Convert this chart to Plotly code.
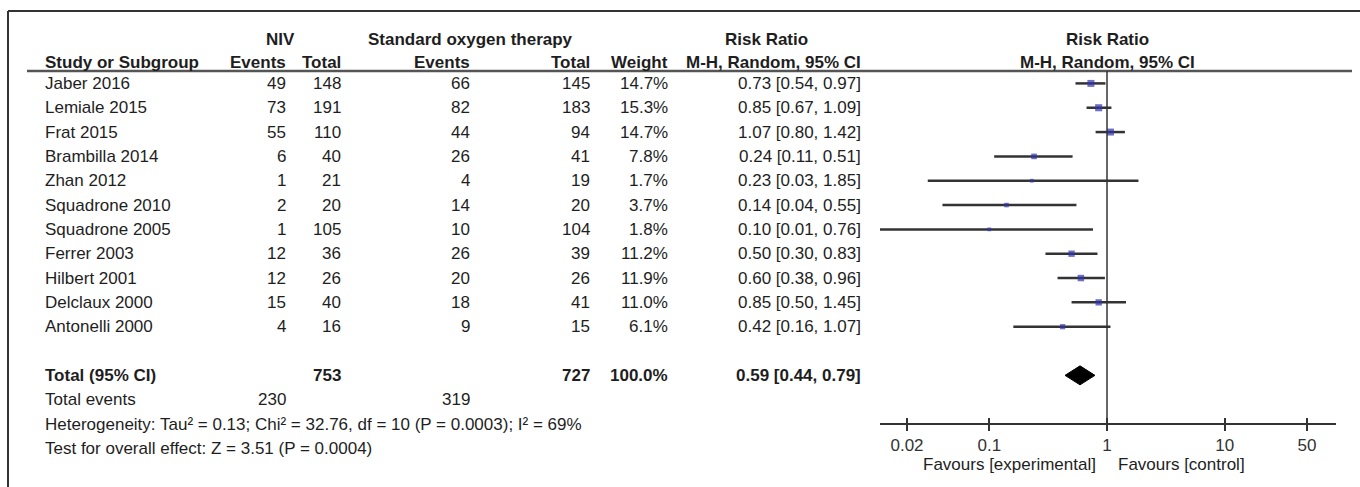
import math
import plotly.graph_objects as go

# ---------------- data ----------------
studies = ["Jaber 2016", "Lemiale 2015", "Frat 2015", "Brambilla 2014", "Zhan 2012",
           "Squadrone 2010", "Squadrone 2005", "Ferrer 2003", "Hilbert 2001",
           "Delclaux 2000", "Antonelli 2000"]
niv_events = [49, 73, 55, 6, 1, 2, 1, 12, 12, 15, 4]
niv_total = [148, 191, 110, 40, 21, 20, 105, 36, 26, 40, 16]
sot_events = [66, 82, 44, 26, 4, 14, 10, 26, 20, 18, 9]
sot_total = [145, 183, 94, 41, 19, 20, 104, 39, 26, 41, 15]
weights = [14.7, 15.3, 14.7, 7.8, 1.7, 3.7, 1.8, 11.2, 11.9, 11.0, 6.1]
rr = [0.73, 0.85, 1.07, 0.24, 0.23, 0.14, 0.10, 0.50, 0.60, 0.85, 0.42]
rr_lo = [0.54, 0.67, 0.80, 0.11, 0.03, 0.04, 0.01, 0.30, 0.38, 0.50, 0.16]
rr_hi = [0.97, 1.09, 1.42, 0.51, 1.85, 0.55, 0.76, 0.83, 0.96, 1.45, 1.07]

total_niv = 753
total_sot = 727
total_weight = "100.0%"
total_rr, total_lo, total_hi = 0.59, 0.44, 0.79
events_niv = 230
events_sot = 319
heterogeneity = "Heterogeneity: Tau² = 0.13; Chi² = 32.76, df = 10 (P = 0.0003); I² = 69%"
overall = "Test for overall effect: Z = 3.51 (P = 0.0004)"

tick_vals = [0.02, 0.1, 1, 10, 50]
tick_text = ["0.02", "0.1", "1", "10", "50"]

# ---------------- layout constants ----------------
W, H = 1360, 487
ROW0, ROWH = 83.4, 24.33          # pixel y of first row, row spacing


def row_of(py):
    return (py - ROW0) / ROWH


def px(x):
    return x / W


def py_paper(y):
    return 1 - y / H


TXT = "#1e1e1e"
FONT = "Arial, Liberation Sans, sans-serif"
FS = 17
BLUE = "#3033aa"
LINE = "#333333"

AX_L, AX_R = 880, 1336
X_ONE, DECADE = 1107.0, 117.7
xr = [(AX_L - X_ONE) / DECADE, (AX_R - X_ONE) / DECADE]
AXIS_Y = 424

fig = go.Figure()

# CI lines
cx, cy = [], []
for i, (lo, hi) in enumerate(zip(rr_lo, rr_hi)):
    cx += [lo, hi, None]
    cy += [i, i, None]
fig.add_trace(go.Scatter(x=cx, y=cy, mode="lines", line=dict(color=LINE, width=2.5),
                         hoverinfo="skip", showlegend=False))

# point estimates
sizes = [2 + 1.3 * math.sqrt(w) for w in weights]
fig.add_trace(go.Scatter(x=rr, y=list(range(len(rr))), mode="markers",
                         marker=dict(symbol="square", size=sizes, color=BLUE,
                                     line=dict(width=0)),
                         showlegend=False))

# diamond
total_row = len(studies) + 1
dh = 0.39
fig.add_trace(go.Scatter(x=[total_lo, total_rr, total_hi, total_rr, total_lo],
                         y=[total_row, total_row - dh, total_row, total_row + dh, total_row],
                         mode="lines", fill="toself", fillcolor="#000000",
                         line=dict(color="#000000", width=1), showlegend=False))

# ghost axis for inner ticks
fig.add_trace(go.Scatter(x=[1], y=[0], xaxis="x2", yaxis="y", mode="markers",
                         marker=dict(opacity=0), showlegend=False, hoverinfo="skip"))

ann = []


def T(text, x, y, anchor="left", bold=False, size=FS, yref="y"):
    ann.append(dict(text=f"<b>{text}</b>" if bold else text, x=px(x), y=y,
                    xref="paper", yref=yref, xanchor=anchor, yanchor="middle",
                    showarrow=False, font=dict(family=FONT, size=size, color=TXT)))


# headers
h1 = row_of(39)
h2 = row_of(62)
T("NIV", 280, h1, "center", True)
T("Standard oxygen therapy", 470, h1, "center", True)
T("Risk Ratio", 766, h1, "center", True)
T("Risk Ratio", X_ONE, h1, "center", True)
T("Study or Subgroup", 43, h2, "left", True)
T("Events", 288, h2, "right", True)
T("Total", 343, h2, "right", True)
T("Events", 472, h2, "right", True)
T("Total", 592, h2, "right", True)
T("Weight", 670, h2, "right", True)
T("M-H, Random, 95% CI", 863, h2, "right", True)
T("M-H, Random, 95% CI", X_ONE, h2, "center", True)

for i, s in enumerate(studies):
    T(s, 43, i)
    T(str(niv_events[i]), 288, i, "right")
    T(str(niv_total[i]), 343, i, "right")
    T(str(sot_events[i]), 472, i, "right")
    T(str(sot_total[i]), 592, i, "right")
    T(f"{weights[i]:.1f}%", 670, i, "right")
    T(f"{rr[i]:.2f} [{rr_lo[i]:.2f}, {rr_hi[i]:.2f}]", 863, i, "right")

T("Total (95% CI)", 43, total_row, "left", True)
T(str(total_niv), 343, total_row, "right", True)
T(str(total_sot), 592, total_row, "right", True)
T(total_weight, 670, total_row, "right", True)
T(f"{total_rr:.2f} [{total_lo:.2f}, {total_hi:.2f}]", 863, total_row, "right", True)
T("Total events", 43, total_row + 1)
T(str(events_niv), 288, total_row + 1, "right")
T(str(events_sot), 472, total_row + 1, "right")
T(heterogeneity, 43, total_row + 2)
T(overall, 43, total_row + 3)

T("Favours [experimental]", 1098, py_paper(464), "right", yref="paper")
T("Favours [control]", 1116, py_paper(464), "left", yref="paper")

shapes = [
    # frame
    dict(type="line", xref="paper", yref="paper", x0=px(8), x1=1.01,
         y0=py_paper(11), y1=py_paper(11), line=dict(color=LINE, width=2)),
    dict(type="line", xref="paper", yref="paper", x0=px(8), x1=px(8),
         y0=py_paper(11), y1=-0.01, line=dict(color=LINE, width=2)),
    # header underline
    dict(type="line", xref="paper", yref="paper", x0=px(27), x1=px(1352),
         y0=py_paper(71), y1=py_paper(71), line=dict(color="#555555", width=2.5)),
    # line of no effect
    dict(type="line", xref="x", yref="paper", x0=1, x1=1,
         y0=py_paper(AXIS_Y), y1=py_paper(71), line=dict(color=LINE, width=1.5)),
]

ypos = py_paper(AXIS_Y)
fig.update_layout(
    width=W, height=H, margin=dict(l=0, r=0, t=0, b=0, pad=0),
    paper_bgcolor="white", plot_bgcolor="rgba(0,0,0,0)",
    annotations=ann, shapes=shapes, showlegend=False,
    xaxis=dict(type="log", range=xr, domain=[px(AX_L), px(AX_R)], anchor="free",
               position=ypos, showgrid=False, zeroline=False, showline=True,
               linecolor=LINE, linewidth=2, ticks="outside", ticklen=6, tickwidth=2,
               tickcolor=LINE, tickvals=tick_vals, ticktext=tick_text,
               tickfont=dict(family=FONT, size=FS, color="#333333")),
    xaxis2=dict(type="log", range=xr, domain=[px(AX_L), px(AX_R)], anchor="free",
                position=ypos, overlaying="x", showgrid=False, zeroline=False,
                showline=False, ticks="inside", ticklen=6, tickwidth=2, tickcolor=LINE,
                tickvals=tick_vals, showticklabels=False),
    yaxis=dict(range=[row_of(H), row_of(0)], domain=[0, 1], visible=False,
               showgrid=False, zeroline=False),
)

fig.write_html("out.html", config={"displayModeBar": False},
               post_script="document.body.style.margin='0';")
